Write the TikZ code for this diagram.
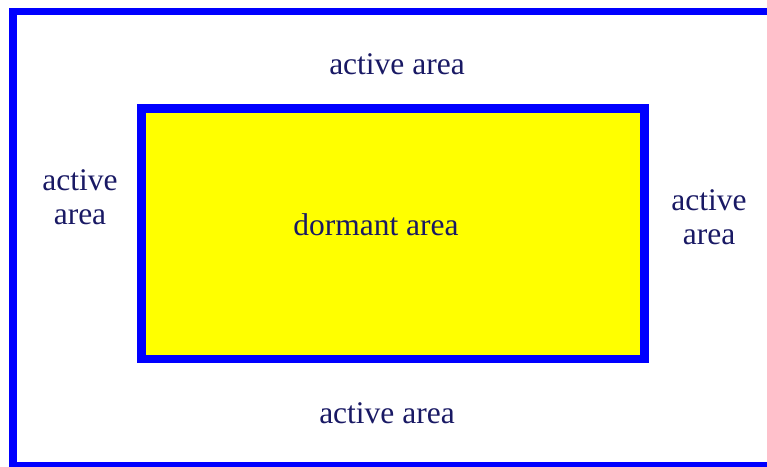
\documentclass[tikz,border=0pt]{standalone}
\usepackage{fontspec}
\setmainfont{Liberation Serif}
\definecolor{frameblue}{RGB}{0,0,255}
\definecolor{dormyellow}{RGB}{255,255,0}
\definecolor{navytext}{RGB}{25,25,100}
\begin{document}
\begin{tikzpicture}[x=1pt,y=-1pt,
  lbl/.style={text=navytext,font=\fontsize{31.5}{34}\selectfont,align=center,inner sep=0pt}]
\useasboundingbox (0,0) rectangle (767,466);
\begin{scope}
\clip (0,0) rectangle (767,466);
\draw[frameblue,line width=7.5pt] (13,11.5) rectangle (800,466);
\end{scope}
\draw[frameblue,line width=8.5pt,fill=dormyellow] (141.5,108.5) rectangle (644.5,359);
\node[lbl] (top) at (397,64) {active area};
\node[lbl] (dorm) at (376,225) {dormant area};
\node[lbl] (left) at (80,197) {active\\area};
\node[lbl] (right) at (709,217) {active\\area};
\node[lbl] (bottom) at (387,413) {active area};
\end{tikzpicture}
\end{document}
